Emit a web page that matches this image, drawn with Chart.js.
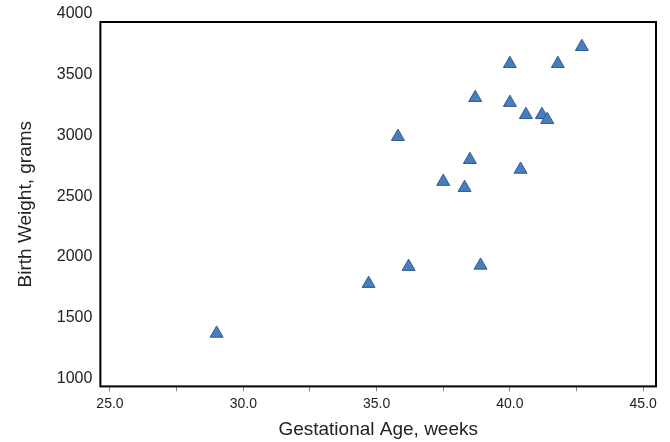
<!DOCTYPE html>
<html>
<head>
<meta charset="utf-8">
<script src="https://cdn.jsdelivr.net/npm/chart.js@4.4.1/dist/chart.umd.min.js"></script>
<style>
  html, body { margin: 0; padding: 0; background: #fff; }
</style>
</head>
<body>
<canvas id="chart" width="670" height="442"></canvas>
<script>
// gestational age (weeks) vs birth weight (grams)
const ageWeeks    = [29.0, 34.7, 36.2, 35.8, 37.5, 38.3, 38.5, 38.7, 38.9, 40.0, 40.0, 40.4, 40.6, 41.2, 41.4, 41.8, 42.7];
const weightGrams = [1370, 1780, 1920, 2990, 2620, 2570, 2800, 3310, 1930, 3590, 3270, 2720, 3170, 3170, 3130, 3590, 3730];

const xTicks = [25, 27.5, 30, 32.5, 35, 37.5, 40, 42.5, 45];
const yTicks = [1000, 1500, 2000, 2500, 3000, 3500, 4000];

const points = ageWeeks.map((a, i) => ({ x: a, y: weightGrams[i] }));

// black box round the plot area
const frame = {
  id: 'frame',
  beforeDatasetsDraw(chart) {
    const { ctx, chartArea: a } = chart;
    ctx.save();
    ctx.strokeStyle = '#000';
    ctx.lineWidth = 2;
    ctx.strokeRect(a.left, a.top, a.right - a.left, a.bottom - a.top);
    ctx.restore();
  }
};

const font = 'Liberation Sans, Arial, sans-serif';

new Chart(document.getElementById('chart'), {
  type: 'scatter',
  data: {
    datasets: [{
      label: 'Birth weight',
      data: points,
      pointStyle: 'triangle',
      pointRadius: 7.5,
      pointHoverRadius: 7.5,
      backgroundColor: '#4a7ebb',
      borderColor: '#2d5a92',
      borderWidth: 1
    }]
  },
  options: {
    responsive: false,
    animation: false,
    layout: { padding: { left: 0, top: 22, right: 14, bottom: 0 } },
    plugins: { legend: { display: false }, tooltip: { enabled: false } },
    scales: {
      x: {
        type: 'linear',
        min: 24.64, max: 45.48,
        afterBuildTicks: ax => { ax.ticks = xTicks.map(v => ({ value: v })); },
        border: { display: false },
        grid: { drawOnChartArea: false, drawTicks: true, tickLength: 5, color: '#888' },
        ticks: {
          autoSkip: false, maxRotation: 0, padding: 4,
          color: '#222', font: { family: font, size: 14 },
          callback: v => (v % 5 === 0 ? v.toFixed(1) : '')
        },
        title: {
          display: true, text: 'Gestational Age, weeks', color: '#222',
          font: { family: font, size: 19 }, padding: { top: 2, bottom: 1 }
        }
      },
      y: {
        type: 'linear',
        min: 934, max: 3934,
        afterBuildTicks: ax => { ax.ticks = yTicks.map(v => ({ value: v })); },
        border: { display: false },
        grid: { display: false, drawTicks: false },
        ticks: {
          padding: 8, color: '#222', font: { family: font, size: 16 },
          callback: v => String(v)
        },
        title: {
          display: true, text: 'Birth Weight, grams', color: '#222',
          font: { family: font, size: 19 }, padding: { top: 14, bottom: 12 }
        }
      }
    }
  },
  plugins: [frame]
});
</script>
</body>
</html>
